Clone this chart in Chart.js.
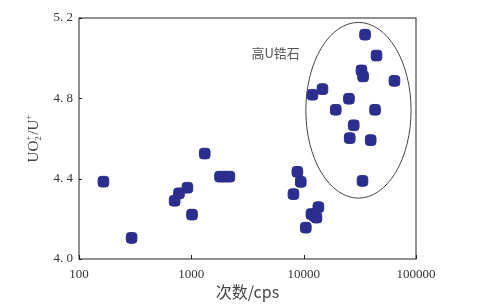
<!DOCTYPE html>
<html>
<head>
<meta charset="utf-8">
<script src="https://cdn.jsdelivr.net/npm/chart.js@4/dist/chart.umd.min.js"></script>
<style>
  html, body { margin: 0; padding: 0; background: #fff; }
  #wrap { width: 485px; height: 307px; }
</style>
</head>
<body>
<div id="wrap"><canvas id="c"></canvas></div>
<script>
// data
const xTicks = [100, 1000, 10000, 100000];
const yTicks = [4.0, 4.4, 4.8, 5.2];
const counts = [165, 294, 710, 777, 923, 1014, 1316, 1800, 1990, 2180,
    8110, 8790, 9420, 10450, 11720, 12400, 13000, 13520,
    11970, 14700, 19300, 25300, 25700, 27900, 32700, 33800, 33400, 35200, 39500, 43200, 44500, 64300];
const ratios = [4.385, 4.105, 4.29, 4.327, 4.355, 4.221, 4.525, 4.41, 4.41, 4.41,
    4.323, 4.434, 4.384, 4.156, 4.224, 4.215, 4.206, 4.258,
    4.818, 4.846, 4.743, 4.798, 4.602, 4.666, 4.939, 4.909, 4.389, 5.117, 4.592, 4.743, 5.013, 4.887];

// high-U group outline (data coords) and its note
const ellipseX = [10450, 90400];
const ellipseY = [4.303, 5.178];
const noteText = '高U锆石';
const noteAt = [3430, 5.025];

const points = counts.map((v, i) => ({ x: v, y: ratios[i] }));

const frame = {
    id: 'frame',
    afterDatasetsDraw(chart) {
        const { ctx, chartArea: a, scales: { x, y } } = chart;
        ctx.save();
        // box
        ctx.strokeStyle = '#222';
        ctx.lineWidth = 1;
        ctx.strokeRect(a.left, a.top, a.right - a.left, a.bottom - a.top);
        // inward ticks
        ctx.beginPath();
        yTicks.forEach(v => {
            const py = Math.round(y.getPixelForValue(v)) + 0.5;
            ctx.moveTo(a.left, py); ctx.lineTo(a.left + 3, py);
        });
        xTicks.forEach(v => {
            const px = Math.round(x.getPixelForValue(v)) + 0.5;
            ctx.moveTo(px, a.bottom); ctx.lineTo(px, a.bottom - 4);
        });
        ctx.stroke();

        // ellipse
        const x0 = x.getPixelForValue(ellipseX[0]), x1 = x.getPixelForValue(ellipseX[1]);
        const y0 = y.getPixelForValue(ellipseY[0]), y1 = y.getPixelForValue(ellipseY[1]);
        ctx.beginPath();
        ctx.ellipse((x0 + x1) / 2, (y0 + y1) / 2, Math.abs(x1 - x0) / 2, Math.abs(y1 - y0) / 2, 0, 0, Math.PI * 2);
        ctx.strokeStyle = '#444';
        ctx.lineWidth = 1;
        ctx.stroke();

        // note
        ctx.fillStyle = '#555';
        ctx.font = '13px "Noto Sans CJK SC", "Liberation Serif", serif';
        ctx.textBaseline = 'middle';
        ctx.textAlign = 'left';
        ctx.fillText(noteText, x.getPixelForValue(noteAt[0]), y.getPixelForValue(noteAt[1]));

        // x title
        ctx.fillStyle = '#444';
        ctx.font = '16px "Noto Sans CJK SC", sans-serif';
        ctx.textAlign = 'center';
        ctx.fillText('次数/cps', (a.left + a.right) / 2, 292);

        // y title with sub/superscripts
        ctx.translate(33, (a.top + a.bottom) / 2);
        ctx.rotate(-Math.PI / 2);
        ctx.fillStyle = '#444';
        const big = '15px "Liberation Serif", serif';
        const small = '9px "Liberation Serif", serif';
        ctx.font = big;
        const wUO = ctx.measureText('UO').width;
        const wU = ctx.measureText('/U').width;
        ctx.font = small;
        const wS = ctx.measureText('+').width;
        const total = wUO + wS + 1 + wU + wS;
        let cx = -total / 2;
        ctx.textAlign = 'left';
        ctx.textBaseline = 'alphabetic';
        ctx.font = big;
        ctx.fillText('UO', cx, 5);
        cx += wUO;
        ctx.font = small;
        ctx.fillText('+', cx, -2);
        ctx.fillText('2', cx, 8);
        cx += wS + 1;
        ctx.font = big;
        ctx.fillText('/U', cx, 5);
        cx += wU;
        ctx.font = small;
        ctx.fillText('+', cx, -2);
        ctx.restore();
    }
};

new Chart(document.getElementById('c'), {
    type: 'scatter',
    data: {
        datasets: [{
            data: points,
            backgroundColor: '#2b2e8e',
            borderColor: '#2b2e8e',
            pointStyle: 'rectRounded',
            pointRadius: 6.2,
            pointHoverRadius: 6.2
        }]
    },
    options: {
        responsive: true,
        maintainAspectRatio: false,
        animation: false,
        layout: { padding: { top: 18, right: 69, left: 0, bottom: 0 } },
        plugins: { legend: { display: false }, tooltip: { enabled: false } },
        scales: {
            x: {
                type: 'logarithmic',
                min: 100, max: 100000,
                afterBuildTicks: s => { s.ticks = xTicks.map(v => ({ value: v })); },
                afterFit: s => { s.height = 48; },
                grid: { display: false, drawTicks: false },
                border: { display: false },
                ticks: {
                    color: '#333', padding: 8,
                    font: { family: '"Liberation Serif", serif', size: 13 },
                    maxRotation: 0, autoSkip: false,
                    callback: v => String(v)
                }
            },
            y: {
                min: 4.0, max: 5.2,
                afterBuildTicks: s => { s.ticks = yTicks.map(v => ({ value: v })); },
                afterFit: s => { s.width = 79; },
                grid: { display: false, drawTicks: false },
                border: { display: false },
                ticks: {
                    color: '#333', padding: 6,
                    font: { family: '"Liberation Serif", serif', size: 13 },
                    callback: v => v.toFixed(1).replace('.', '. ')
                }
            }
        }
    },
    plugins: [frame]
});
</script>
</body>
</html>
